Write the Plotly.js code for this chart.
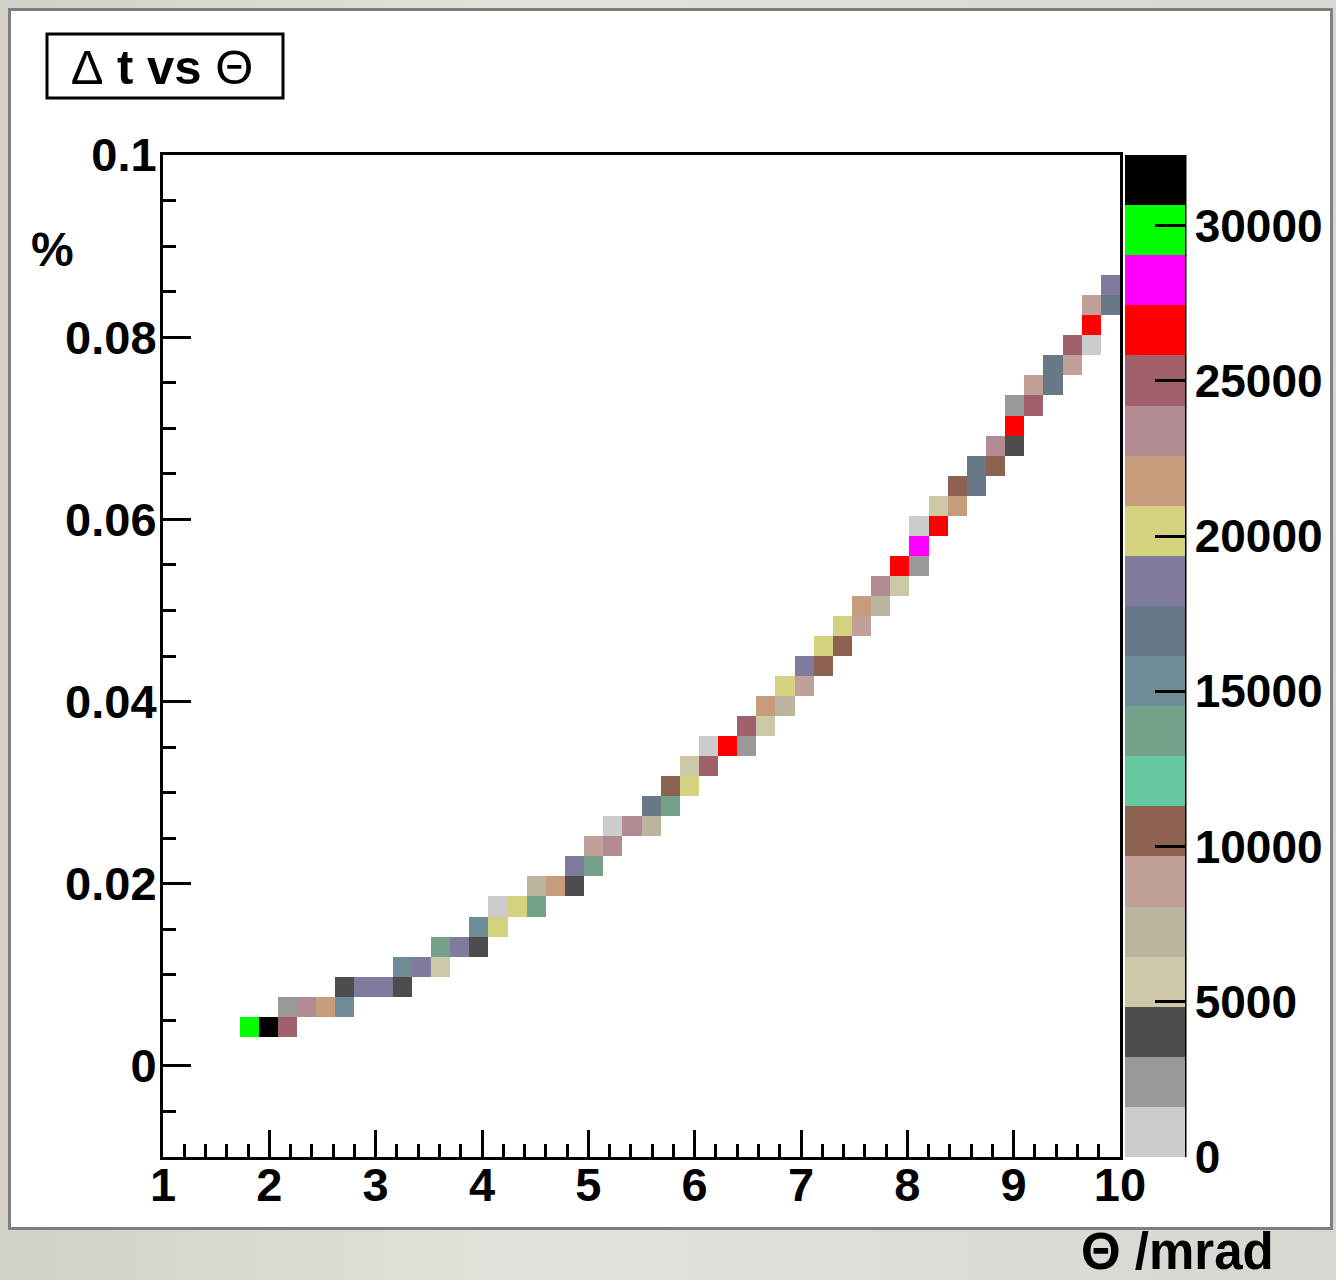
<!DOCTYPE html>
<html><head><meta charset="utf-8">
<script src="https://cdn.plot.ly/plotly-3.0.1.min.js"></script>
<style>
html,body{margin:0;padding:0;background:#d9d7d2;}
#wrap{position:relative;width:1336px;height:1280px;overflow:hidden;background:linear-gradient(90deg,#d3d0c6 0%,#e4e2dc 40%,#d8d6d0 100%);}
#frame{position:absolute;left:8px;top:8px;width:1319px;height:1216px;background:#fff;border:3px solid #7f7f7f;}
#plot{position:absolute;left:0;top:0;width:1336px;height:1280px;}
</style></head><body>
<div id="wrap"><div id="frame"></div><div id="plot"></div></div>
<script>
// Filled bins of the 2D histogram: bin centre in Θ (mrad), Δt (%) and bin content
const thetaMrad = [1.81,1.99,2.17,2.17,2.35,2.53,2.71,2.71,2.89,3.07,3.25,3.25,3.43,3.61,3.61,3.79,3.97,3.97,4.15,4.15,4.33,4.51,4.51,4.69,4.87,4.87,5.05,5.05,5.23,5.23,5.41,5.59,5.59,5.77,5.77,5.95,5.95,6.13,6.13,6.31,6.49,6.49,6.67,6.67,6.85,6.85,7.03,7.03,7.21,7.21,7.39,7.39,7.57,7.57,7.75,7.75,7.93,7.93,8.11,8.11,8.11,8.29,8.29,8.47,8.47,8.65,8.65,8.83,8.83,9.01,9.01,9.01,9.19,9.19,9.37,9.37,9.55,9.55,9.73,9.73,9.73,9.91,9.91];
const deltaTPct = [0.0043,0.0043,0.0043,0.0065,0.0065,0.0065,0.0065,0.0087,0.0087,0.0087,0.0087,0.0109,0.0109,0.0109,0.0131,0.0131,0.0131,0.0153,0.0153,0.0175,0.0175,0.0175,0.0197,0.0197,0.0197,0.0219,0.0219,0.0241,0.0241,0.0263,0.0263,0.0263,0.0285,0.0285,0.0307,0.0307,0.0329,0.0329,0.0351,0.0351,0.0351,0.0373,0.0373,0.0395,0.0395,0.0417,0.0417,0.0439,0.0439,0.0461,0.0461,0.0483,0.0483,0.0505,0.0505,0.0527,0.0527,0.0549,0.0549,0.0571,0.0593,0.0593,0.0615,0.0615,0.0637,0.0637,0.0659,0.0659,0.0681,0.0681,0.0703,0.0725,0.0725,0.0747,0.0747,0.0769,0.0769,0.0791,0.0791,0.0813,0.0835,0.0835,0.0857];
const binCounts = [29900,32280,25000,2400,23400,21800,15300,4000,18600,18600,4000,15300,18600,5600,13700,18600,4000,15300,20200,800,20200,13700,7300,21800,4000,18600,13700,8900,23400,800,23400,7300,16900,13700,10500,20200,5600,25000,800,26600,2400,25000,5600,21800,7300,20200,8900,18600,10500,20200,10500,20200,8900,21800,7300,23400,5600,26600,2400,28200,800,26600,5600,21800,10500,16900,16900,10500,23400,4000,26600,2400,25000,8900,16900,16900,8900,25000,800,26600,8900,16900,18600];
// Histogram binning (50 x 50)
const nBinsX = 50, thetaMin = 1, thetaMax = 10;
const nBinsY = 50, dtMin = -0.01, dtMax = 0.1;
// Colour palette (20 levels) and colour-bar ticks
const paletteColors = ['#cccccc','#999999','#4d4d4d','#cdc8a8','#bbb59f','#c0a099','#8e6253','#66c8a1','#74a18a','#6f8c96','#687887','#807a9d','#d4d27f','#c79c7b','#b28a92','#a0606c','#ff0000','#ff00ff','#00ff00','#000000'];
const zMax = 32280;
const colorbarTicks = [0,5000,10000,15000,20000,25000,30000];

const dx = (thetaMax-thetaMin)/nBinsX, dy = (dtMax-dtMin)/nBinsY;
const z = [];
for (let j=0;j<nBinsY;j++){ z.push(new Array(nBinsX).fill(null)); }
for (let k=0;k<binCounts.length;k++){
  const i = Math.floor((thetaMrad[k]-thetaMin)/dx);
  const j = Math.floor((deltaTPct[k]-dtMin)/dy);
  z[j][i] = binCounts[k];
}
const cs = [];
const n = paletteColors.length;
paletteColors.forEach((c,k)=>{ cs.push([k/n,c]); cs.push([(k+1)/n,c]); });

const W=1336,H=1280,L=163,R=1120,T=155,B=1157;
const px = v => (v-L)/(R-L);
const py = v => (B-v)/(B-T);
const FONT = 'Liberation Sans, Arial, Helvetica, sans-serif';

const trace = {
  type:'heatmap', z:z, x0:thetaMin+dx/2, dx:dx, y0:dtMin+dy/2, dy:dy,
  zmin:0, zmax:zMax, colorscale:cs, zsmooth:false, hoverongaps:false,
  colorbar:{
    thickness:60, thicknessmode:'pixels', len:B-T, lenmode:'pixels',
    x:px(1125), xanchor:'left', xref:'paper', y:0.5, yanchor:'middle', yref:'paper',
    xpad:0, ypad:0, outlinewidth:0,
    tickmode:'array', tickvals:colorbarTicks, ticktext:colorbarTicks.map(String),
    ticks:'inside', ticklen:30, tickwidth:3, tickcolor:'#000',
    tickfont:{family:FONT,size:46,color:'#000',weight:'bold'}
  }
};

const axisCommon = {
  ticks:'inside', tickwidth:3, tickcolor:'#000', showline:true, linewidth:3, linecolor:'#000',
  mirror:true, showgrid:false, zeroline:false,
  tickfont:{family:FONT,size:47,color:'#000',weight:'bold'}
};
const layout = {
  width:W, height:H,
  margin:{l:L, r:W-R, t:T, b:H-B, pad:0, autoexpand:false},
  paper_bgcolor:'rgba(0,0,0,0)', plot_bgcolor:'#ffffff',
  font:{family:FONT,size:46,color:'#000'},
  title:{text:"<span style='font-weight:normal'>Δ</span> t vs <span style='font-weight:normal'>Θ</span>",
    xref:'container', yref:'container', x:162/W, y:1-67/H, xanchor:'center', yanchor:'middle',
    font:{family:FONT,size:49,color:'#000',weight:'bold'}},
  xaxis:Object.assign({}, axisCommon, {range:[thetaMin,thetaMax], tickmode:'linear', tick0:1, dtick:1, ticklen:27,
    ticklabelstandoff:-15,
    minor:{ticks:'inside', ticklen:13, tickwidth:3, tickcolor:'#000', dtick:0.2, tick0:1, showgrid:false}}),
  yaxis:Object.assign({}, axisCommon, {range:[dtMin,dtMax], tickmode:'linear', tick0:0, dtick:0.02, ticklen:28,
    ticklabelstandoff:-6,
    minor:{ticks:'inside', ticklen:13, tickwidth:3, tickcolor:'#000', dtick:0.005, tick0:0, showgrid:false}}),
  shapes:[
    {type:'rect', xref:'paper', yref:'paper', x0:px(47), x1:px(283), y0:py(98), y1:py(34),
     line:{color:'#000',width:3}, fillcolor:'rgba(0,0,0,0)'},
    {type:'line', xref:'paper', yref:'paper', x0:px(1185), x1:px(1185), y0:0, y1:1,
     line:{color:'#000',width:3}}
  ],
  annotations:[
    {text:'%', xref:'paper', yref:'paper', x:px(52), y:py(249), xanchor:'center', yanchor:'middle',
     showarrow:false, font:{family:FONT,size:48,color:'#000',weight:'bold'}},
    {text:'Θ /mrad', xref:'paper', yref:'paper', x:px(1177), y:py(1251), xanchor:'center', yanchor:'middle',
     showarrow:false, font:{family:FONT,size:51,color:'#000',weight:'bold'}}
  ]
};
Plotly.newPlot('plot',[trace],layout,{displayModeBar:false,staticPlot:true});
</script>
</body></html>
